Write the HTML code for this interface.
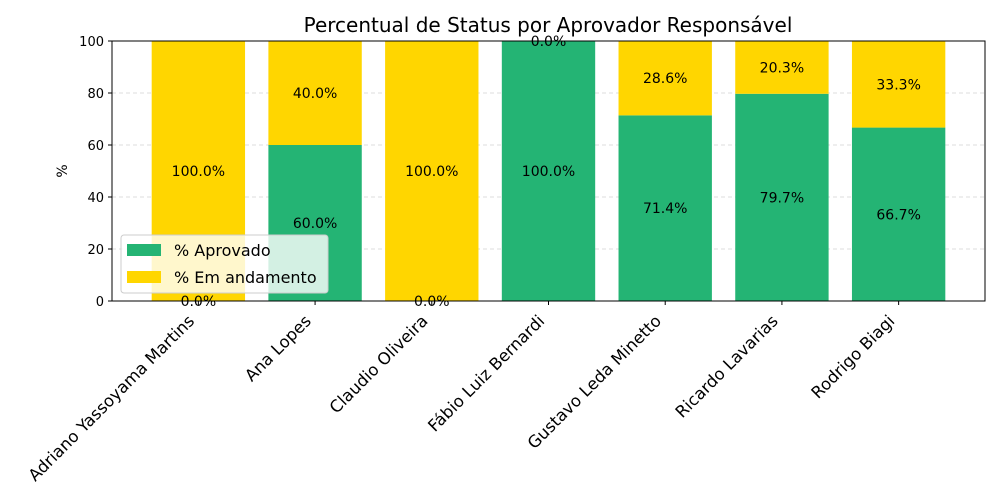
<!DOCTYPE html>
<html><head><meta charset="utf-8"><style>
html,body{margin:0;background:#fff;overflow:hidden;width:1000px;height:500px;}
svg{display:block;}
svg text{font-family:"DejaVu Sans","Liberation Sans",sans-serif;}
</style></head><body>
<svg id="chart" width="1000" height="500" viewBox="0 0 1000 500">
<rect width="1000" height="500" fill="#fff"/>
<text x="548" y="32" font-size="20" text-anchor="middle">Percentual de Status por Aprovador Responsável</text>
<g id="grid"></g>
<g id="bars"></g>
<g id="legend">
<rect x="121" y="235" width="207" height="58" rx="3" fill="#fff" fill-opacity="0.8" stroke="#ccc"/>
<rect x="127" y="244" width="34" height="12" fill="#24b474"/>
<text x="174" y="256" font-size="16">% Aprovado</text>
<rect x="127" y="271" width="34" height="12" fill="#ffd600"/>
<text x="174" y="283" font-size="16">% Em andamento</text>
</g>
<g id="labels"></g>
<g id="axes"></g>
<text transform="translate(67,171) rotate(-90)" font-size="14" text-anchor="middle">%</text>
</svg>
<script>
const categories=["Adriano Yassoyama Martins","Ana Lopes","Claudio Oliveira","Fábio Luiz Bernardi","Gustavo Leda Minetto","Ricardo Lavarias","Rodrigo Biagi"];
const aprovado=[0,60,0,100,71.4,79.7,66.7];
const emAndamento=[100,40,100,0,28.6,20.3,33.3];
const yTicks=[0,20,40,60,80,100];
const L=112,R=985,T=41,B=301;
const xMin=-0.74,xMax=categories.length-1+0.74;
const x=i=>L+(i-xMin)/(xMax-xMin)*(R-L);
const y=v=>B-v/100*(B-T);
const bw=0.8*(R-L)/(xMax-xMin);
const NS="http://www.w3.org/2000/svg";
function mk(tag,attrs,parent){const e=document.createElementNS(NS,tag);for(const k in attrs)e.setAttribute(k,attrs[k]);parent.appendChild(e);return e;}
const grid=document.getElementById('grid'),bars=document.getElementById('bars'),labels=document.getElementById('labels'),axes=document.getElementById('axes');
yTicks.forEach(t=>{
 if(t>0&&t<100){const g=mk('line',{x1:L,x2:R,y1:y(t),y2:y(t),stroke:'#ddd','stroke-dasharray':'4,3'},grid);
 
 }
 const tk=mk('line',{x1:L-4,x2:L,y1:y(t),y2:y(t),stroke:'#000'},axes);
 
 
 const tl=mk('text',{x:L-8,y:y(t)+5,'font-size':13,'text-anchor':'end'},axes);tl.textContent=t;
 
 
});
categories.forEach((c,i)=>{
 const cx=x(i),a=aprovado[i],e=emAndamento[i];
 const b1=mk('rect',{x:cx-bw/2,y:y(a),width:bw,height:y(0)-y(a),fill:'#24b474'},bars);
 
 
 const b2=mk('rect',{x:cx-bw/2,y:y(a+e),width:bw,height:y(a)-y(a+e),fill:'#ffd600'},bars);
 
 
 const l1=mk('text',{x:cx,y:y(a/2)+5,'font-size':14,'text-anchor':'middle'},labels);l1.textContent=a.toFixed(1)+'%';
 
 
 const l2=mk('text',{x:cx,y:y(a+e/2)+5,'font-size':14,'text-anchor':'middle'},labels);l2.textContent=e.toFixed(1)+'%';
 
 
 const tk=mk('line',{x1:cx,x2:cx,y1:B,y2:B+4,stroke:'#000'},axes);
 
 
 const tl=mk('text',{transform:`translate(${cx-3},${B+21}) rotate(-45)`,'font-size':16.5,'text-anchor':'end'},axes);tl.textContent=c;
 
 
});
const fr=mk('rect',{x:L,y:T,width:R-L,height:B-T,fill:'none',stroke:'#000'},axes);


</script>
</body></html>
